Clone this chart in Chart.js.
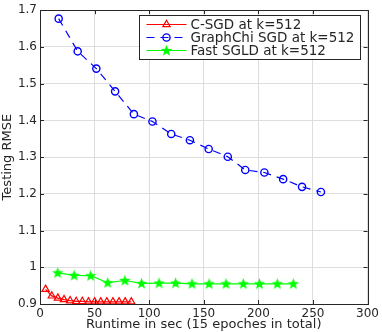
<!DOCTYPE html>
<html lang="en">
<head>
  <meta charset="UTF-8" />
  <title>Testing RMSE vs runtime</title>
  <script src="https://cdn.jsdelivr.net/npm/chart.js"></script>
  <style>
    body { margin: 0; padding: 0; background: #fff; }
    #wrap { width: 382px; height: 332px; }
  </style>
</head>
<body>
  <div id="wrap"><canvas id="rmse" width="382" height="332"></canvas></div>

  <script>
    // values
    const csgdX = [5.1, 10.8, 16.4, 22.0, 27.6, 33.2, 38.8, 44.4, 50.0, 55.6, 61.2, 66.8, 72.4, 78.0, 83.6];
    const csgdY = [0.940, 0.922, 0.916, 0.912, 0.909, 0.907, 0.907, 0.906, 0.906, 0.906, 0.906, 0.906, 0.906, 0.906, 0.906];

    const gchiX = [17.1, 34.5, 51.6, 68.8, 86.0, 103.0, 120.2, 137.3, 154.5, 172.0, 188.0, 205.5, 222.7, 240.0, 257.3];
    const gchiY = [1.677, 1.588, 1.541, 1.479, 1.417, 1.397, 1.363, 1.346, 1.322, 1.301, 1.265, 1.258, 1.240, 1.219, 1.205];

    const sgldX = [16.2, 31.3, 46.4, 62.0, 77.7, 93.0, 109.0, 124.2, 139.2, 154.9, 170.3, 186.2, 201.0, 217.3, 232.0];
    const sgldY = [0.985, 0.978, 0.977, 0.958, 0.964, 0.956, 0.957, 0.957, 0.955, 0.955, 0.955, 0.955, 0.955, 0.955, 0.955];

    const seriesNames = ['C-SGD at k=512', 'GraphChi SGD at k=512', 'Fast SGLD at k=512'];
    const xTicks = [0, 50, 100, 150, 200, 250, 300];
    const yTicks = [0.9, 1.0, 1.1, 1.2, 1.3, 1.4, 1.5, 1.6, 1.7];

    const pts = (xs, ys) => xs.map((x, i) => ({ x: x, y: ys[i] }));

    // filled green pentagram marker (matlab 'p')
    function starMarker(color) {
      const c = document.createElement('canvas');
      c.width = 13; c.height = 13;
      const g = c.getContext('2d');
      g.beginPath();
      for (let i = 0; i < 10; i++) {
        const r = i % 2 === 0 ? 6 : 2.5;
        const a = -Math.PI / 2 + i * Math.PI / 5;
        g.lineTo(6.5 + r * Math.cos(a), 6.8 + r * Math.sin(a));
      }
      g.closePath();
      g.fillStyle = color;
      g.fill();
      return c;
    }
    const star = starMarker('#00ff00');

    const ink = '#262626';
    const font = 'DejaVu Sans';

    // box, inward ticks and the legend, matlab style
    const matlabFrame = {
      id: 'matlabFrame',
      afterDraw(chart) {
        const { ctx, chartArea: a, scales: { x, y } } = chart;
        ctx.save();
        ctx.strokeStyle = ink;
        ctx.lineWidth = 1;
        ctx.beginPath();
        xTicks.forEach(v => {
          const px = Math.round(x.getPixelForValue(v)) + 0.5;
          ctx.moveTo(px, a.bottom); ctx.lineTo(px, a.bottom - 4);
          ctx.moveTo(px, a.top); ctx.lineTo(px, a.top + 4);
        });
        yTicks.forEach(v => {
          const py = Math.round(y.getPixelForValue(v)) + 0.5;
          ctx.moveTo(a.left, py); ctx.lineTo(a.left + 4, py);
          ctx.moveTo(a.right, py); ctx.lineTo(a.right - 4, py);
        });
        ctx.stroke();
        ctx.strokeRect(Math.round(a.left) + 0.5, Math.round(a.top) + 0.5,
                       Math.round(a.right - a.left), Math.round(a.bottom - a.top));

        // legend
        const bx = 139.5, by = 15.5, bw = 221, bh = 44;
        ctx.fillStyle = '#fff';
        ctx.fillRect(bx, by, bw, bh);
        ctx.strokeRect(bx, by, bw, bh);
        ctx.font = '13.5px "' + font + '"';
        ctx.textBaseline = 'middle';
        chart.data.datasets.forEach((ds, i) => {
          const ry = by + 9 + i * 13;
          ctx.strokeStyle = ds.borderColor;
          ctx.lineWidth = ds.borderWidth;
          ctx.setLineDash(ds.borderDash || []);
          ctx.beginPath();
          ctx.moveTo(bx + 7, ry); ctx.lineTo(bx + 47, ry);
          ctx.stroke();
          ctx.setLineDash([]);
          ctx.strokeStyle = ds.pointBorderColor;
          ctx.fillStyle = ds.pointBackgroundColor;
          ctx.lineWidth = ds.pointBorderWidth;
          Chart.helpers.drawPoint(ctx, {
            pointStyle: ds.pointStyle,
            radius: ds.pointRadius,
            borderWidth: ds.pointBorderWidth,
            rotation: 0
          }, bx + 27, ry);
          ctx.fillStyle = ink;
          ctx.fillText(seriesNames[i], bx + 51, ry + 0.5);
        });
        ctx.restore();
      }
    };

    const ctx = document.getElementById('rmse').getContext('2d');
    new Chart(ctx, {
      type: 'line',
      data: {
        datasets: [
          {
            label: seriesNames[0], data: pts(csgdX, csgdY),
            borderColor: '#ff0000', borderWidth: 1.2,
            pointStyle: 'triangle', pointRadius: 4.2, pointBorderWidth: 1.2,
            pointBackgroundColor: 'rgba(255,255,255,0)', pointBorderColor: '#ff0000',
            clip: false
          },
          {
            label: seriesNames[1], data: pts(gchiX, gchiY),
            borderColor: '#0000ff', borderWidth: 1.2, borderDash: [8, 6],
            pointStyle: 'circle', pointRadius: 3.6, pointBorderWidth: 1.4,
            pointBackgroundColor: 'rgba(255,255,255,0)', pointBorderColor: '#0000ff',
            clip: false
          },
          {
            label: seriesNames[2], data: pts(sgldX, sgldY),
            borderColor: '#00ff00', borderWidth: 1.2,
            pointStyle: star, pointRadius: 6, pointBorderWidth: 0,
            pointBackgroundColor: '#00ff00', pointBorderColor: '#00ff00',
            clip: false
          }
        ]
      },
      options: {
        responsive: false,
        animation: false,
        layout: { padding: { top: 5, right: 11, left: 0, bottom: 0 } },
        plugins: { legend: { display: false }, tooltip: { enabled: false } },
        elements: { line: { tension: 0 } },
        scales: {
          x: {
            type: 'linear', min: 0, max: 300,
            afterBuildTicks: s => { s.ticks = xTicks.map(v => ({ value: v })); },
            afterFit: s => { s.height = 28; },
            grid: { color: '#dedede', drawTicks: false },
            border: { display: false },
            ticks: { padding: 3, color: ink, font: { family: font, size: 12 }, maxRotation: 0 },
            title: {
              display: true, text: 'Runtime in sec (15 epoches in total)',
              color: ink, font: { family: font, size: 13 }, padding: { top: 0, bottom: 0 }
            }
          },
          y: {
            type: 'linear', min: 0.9, max: 1.7,
            afterBuildTicks: s => { s.ticks = yTicks.map(v => ({ value: v })); },
            afterFit: s => { s.width = 40; },
            grid: { color: '#dedede', drawTicks: false },
            border: { display: false },
            ticks: {
              padding: 3, color: ink, font: { family: font, size: 12 },
              callback: v => String(Math.round(v * 10) / 10)
            },
            title: {
              display: true, text: 'Testing RMSE',
              color: ink, font: { family: font, size: 13 }, padding: { top: 0, bottom: 0 }
            }
          }
        }
      },
      plugins: [matlabFrame]
    });
  </script>
</body>
</html>
